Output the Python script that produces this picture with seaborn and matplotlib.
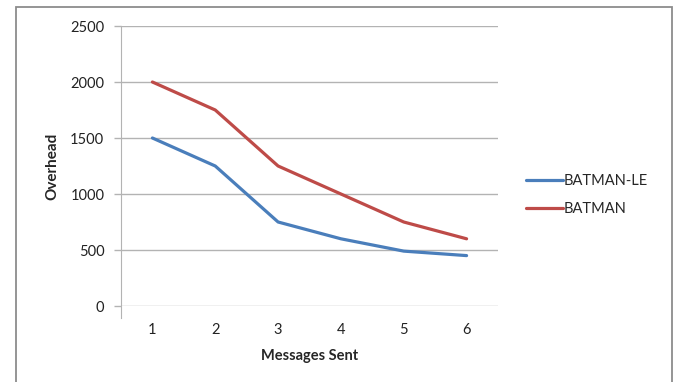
import matplotlib
matplotlib.use("Agg")
import matplotlib.pyplot as plt
import seaborn as sns
import pandas as pd
from matplotlib.patches import Rectangle

messages = [1, 2, 3, 4, 5, 6]
batman_le = [1500, 1250, 750, 600, 490, 450]
batman = [2000, 1750, 1250, 1000, 750, 600]
series_names = ['BATMAN-LE', 'BATMAN']
y_ticks = [0, 500, 1000, 1500, 2000, 2500]

df = pd.DataFrame({
    'Messages Sent': messages * 2,
    'Overhead': batman_le + batman,
    'series': [series_names[0]] * len(messages) + [series_names[1]] * len(messages),
})

sns.set_style('white')
plt.rcParams['font.family'] = ['Lato', 'DejaVu Sans']

fig = plt.figure(figsize=(6.8, 3.82), dpi=100)
ax = fig.add_axes([121 / 680, 1 - 306 / 382, (498 - 121) / 680, (306 - 26) / 382])

sns.lineplot(data=df, x='Messages Sent', y='Overhead', hue='series',
             palette=['#4a7ebb', '#be4b48'], linewidth=2.3, ax=ax,
             legend=False)

ax.set_xlim(0.5, 6.5)
ax.set_ylim(0, 2500)
ax.set_yticks(y_ticks)
ax.set_xticks(messages)
ax.yaxis.grid(True, color='#b3b3b3', linewidth=1)
ax.set_axisbelow(True)
for s in ['top', 'right', 'bottom']:
    ax.spines[s].set_visible(False)
ax.spines['left'].set_color('#b3b3b3')
ax.spines['left'].set_bounds(-110, 2500)
ax.tick_params(axis='y', length=5, color='#b3b3b3', width=1, left=True,
               labelsize=10.5, labelcolor='#222222', pad=7)
ax.tick_params(axis='x', length=0, labelsize=10.5, labelcolor='#222222', pad=12)
ax.set_xlabel('Messages Sent', fontsize=10.5, fontweight='bold', labelpad=9)
ax.set_ylabel('Overhead', fontsize=11, fontweight='bold', labelpad=8)

handles = ax.get_lines()[:2]
fig.legend(handles, series_names, loc='center left',
           bbox_to_anchor=(513 / 680, 1 - 195 / 382), frameon=False,
           fontsize=10.5, handlelength=2.5, handletextpad=0.1,
           labelspacing=0.95)

fig.patches.append(Rectangle((16 / 680, -0.05), (672 - 16) / 680, 1.05 - 7 / 382,
                             transform=fig.transFigure, fill=False,
                             edgecolor='#8c8c8c', linewidth=1.3))

fig.savefig('out.png', dpi=100)
